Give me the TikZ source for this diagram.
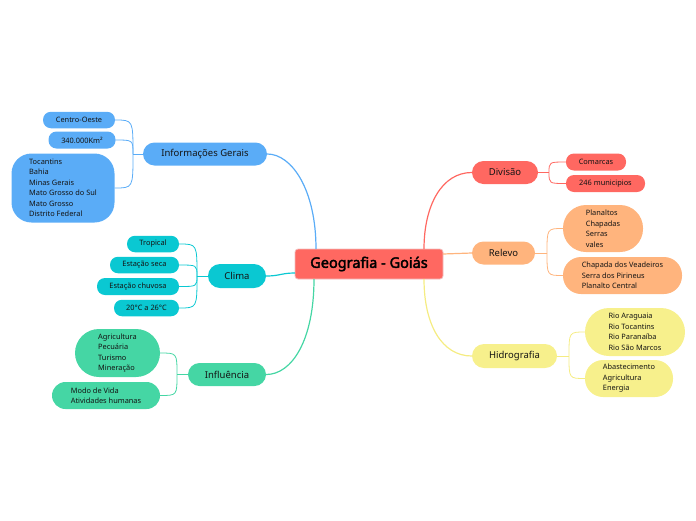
\documentclass[tikz,border=0pt]{standalone}
\usepackage{fontspec}
\setmainfont{Noto Sans}
\newfontfamily\rootfont{Noto Sans}[FakeBold=2.5]
\usetikzlibrary{calc}
\definecolor{cblue}{RGB}{90,172,247}
\definecolor{cteal}{RGB}{10,200,210}
\definecolor{cgreen}{RGB}{69,214,164}
\definecolor{cred}{RGB}{255,104,97}
\definecolor{corange}{RGB}{255,180,125}
\definecolor{cyellow}{RGB}{247,240,140}
\definecolor{lyellow}{RGB}{245,236,130}
\definecolor{rootborder}{RGB}{242,190,190}
\definecolor{txt}{RGB}{20,20,20}
\begin{document}
\begin{tikzpicture}[x=1pt,y=-1pt,
  every node/.style={text=txt, inner sep=0pt, font=\fontsize{7.4}{10.5}\selectfont},
  rootbox/.style={fill=cred, draw=rootborder, line width=0.8pt, rounded corners=3pt,
     minimum width=148pt, minimum height=30pt, font=\rootfont\fontsize{14.5}{16}\selectfont, text=black},
  mainbox/.style={rounded corners=11.5pt, minimum height=23pt, font=\fontsize{9.5}{11}\selectfont},
  subbox/.style={rounded corners=8pt, minimum height=16.5pt, align=left},
  mainline/.style={line width=1.2pt},
  subline/.style={line width=0.8pt},
]
\useasboundingbox (0,0) rectangle (696,520);

% root
\node[rootbox] (root) at (369,264) {Geografia - Goiás};
\coordinate (rtl) at (316,249);
\coordinate (rbl) at (314,279);
\coordinate (rtr) at (424,249);
\coordinate (rbr) at (424,279);
\coordinate (rl) at (295,273);
\coordinate (rr) at (443,254);

% ---------------- Informações Gerais
\node[mainbox, fill=cblue, minimum width=124pt] (info) at (205,154) {Informações Gerais};
\node[subbox, fill=cblue, minimum width=72pt] (centro) at (79,120) {Centro-Oeste};
\node[subbox, fill=cblue, minimum width=67pt, minimum height=17pt] (km) at (82,140) {340.000Km²};
\node[subbox, fill=cblue, minimum width=103pt, minimum height=69pt, rounded corners=20pt] (estados) at (63,188)
  {Tocantins\\Bahia\\Minas Gerais\\Mato Grosso do Sul\\Mato Grosso\\Distrito Federal};
\coordinate (ji) at (133,154);
\begin{scope}[cblue]
\draw[mainline] (rtl) .. controls (316,190) and (292,154) .. (info.east);
\draw[subline] (info.west) -- (ji);
\draw[subline] (ji) .. controls (ji |- centro.east) .. (centro.east);
\draw[subline] (ji) .. controls (ji |- km.east) .. (km.east);
\draw[subline] (ji) .. controls (ji |- estados.east) .. (estados.east);
\end{scope}

% ---------------- Clima
\node[mainbox, fill=cteal, minimum width=58pt, minimum height=24pt, rounded corners=12pt] (clima) at (237,276) {Clima};
\node[subbox, fill=cteal, minimum width=52pt] (tropical) at (153,244) {Tropical};
\node[subbox, fill=cteal, minimum width=69pt] (seca) at (144.5,265) {Estação seca};
\node[subbox, fill=cteal, minimum width=82pt, minimum height=17pt] (chuvosa) at (138,286.5) {Estação chuvosa};
\node[subbox, fill=cteal, minimum width=65pt] (temp) at (146.5,308) {20°C a 26°C};
\coordinate (jc) at (197,276);
\begin{scope}[cteal]
\draw[mainline] (rl) .. controls (281,273) and (280,276) .. (clima.east);
\draw[subline] (clima.west) -- (jc);
\draw[subline] (jc) .. controls (jc |- tropical.east) .. (tropical.east);
\draw[subline] (jc) .. controls (jc |- seca.east) .. (seca.east);
\draw[subline] (jc) .. controls (jc |- chuvosa.east) .. (chuvosa.east);
\draw[subline] (jc) .. controls (jc |- temp.east) .. (temp.east);
\end{scope}

% ---------------- Influência
\node[mainbox, fill=cgreen, minimum width=78pt] (influ) at (227,374.5) {Influência};
\node[subbox, fill=cgreen, minimum width=85pt, minimum height=48pt, rounded corners=24pt] (agri) at (117.5,353)
  {Agricultura\\Pecuária\\Turismo\\Mineração};
\node[subbox, fill=cgreen, minimum width=108pt, minimum height=27pt, rounded corners=13.5pt] (modo) at (106,395.5)
  {Modo de Vida\\Atividades humanas};
\coordinate (jf) at (177,374.5);
\begin{scope}[cgreen]
\draw[mainline] (rbl) .. controls (314,340) and (292,374.5) .. (influ.east);
\draw[subline] (influ.west) -- (jf);
\draw[subline] (jf) .. controls (jf |- agri.east) .. (agri.east);
\draw[subline] (jf) .. controls (jf |- modo.east) .. (modo.east);
\end{scope}

% ---------------- Divisão
\node[mainbox, fill=cred, minimum width=66pt] (divisao) at (505,172.5) {Divisão};
\node[subbox, fill=cred, minimum width=60pt, minimum height=17pt] (comarcas) at (596,162) {Comarcas};
\node[subbox, fill=cred, minimum width=79pt, minimum height=17pt] (mun) at (605.5,183.5) {246 municipios};
\coordinate (jd) at (549,172.5);
\begin{scope}[cred]
\draw[mainline] (rtr) .. controls (424,205) and (442,172.5) .. (divisao.west);
\draw[subline] (divisao.east) -- (jd);
\draw[subline] (jd) .. controls (jd |- comarcas.west) .. (comarcas.west);
\draw[subline] (jd) .. controls (jd |- mun.west) .. (mun.west);
\end{scope}

% ---------------- Relevo
\node[mainbox, fill=corange, minimum width=63pt] (relevo) at (503.5,253) {Relevo};
\node[subbox, fill=corange, minimum width=80pt, minimum height=47pt, rounded corners=23pt] (plan) at (603,228.5)
  {Planaltos\\Chapadas\\Serras\\vales};
\node[subbox, fill=corange, minimum width=119pt, minimum height=37pt, rounded corners=18pt] (chap) at (622.5,275.5)
  {Chapada dos Veadeiros\\Serra dos Pirineus\\Planalto Central};
\coordinate (jr) at (547,253);
\begin{scope}[corange]
\draw[mainline] (rr) .. controls (458,254) and (458,253) .. (relevo.west);
\draw[subline] (relevo.east) -- (jr);
\draw[subline] (jr) .. controls (jr |- plan.west) .. (plan.west);
\draw[subline] (jr) .. controls (jr |- chap.west) .. (chap.west);
\end{scope}

% ---------------- Hidrografia
\node[mainbox, fill=cyellow, minimum width=85pt, minimum height=24pt, rounded corners=12pt] (hidro) at (514.5,356) {Hidrografia};
\node[subbox, fill=cyellow, minimum width=100pt, minimum height=48pt, rounded corners=24pt] (rios) at (635,332)
  {Rio Araguaia\\Rio Tocantins\\Rio Paranaíba\\Rio São Marcos};
\node[subbox, fill=cyellow, minimum width=88pt, minimum height=37pt, rounded corners=18pt] (abast) at (629,378.5)
  {Abastecimento\\Agricultura\\Energia};
\coordinate (jh) at (569,356);
\begin{scope}[lyellow]
\draw[mainline] (rbr) .. controls (424,325) and (442,356) .. (hidro.west);
\draw[subline] (hidro.east) -- (jh);
\draw[subline] (jh) .. controls (jh |- rios.west) .. (rios.west);
\draw[subline] (jh) .. controls (jh |- abast.west) .. (abast.west);
\end{scope}
\end{tikzpicture}
\end{document}
